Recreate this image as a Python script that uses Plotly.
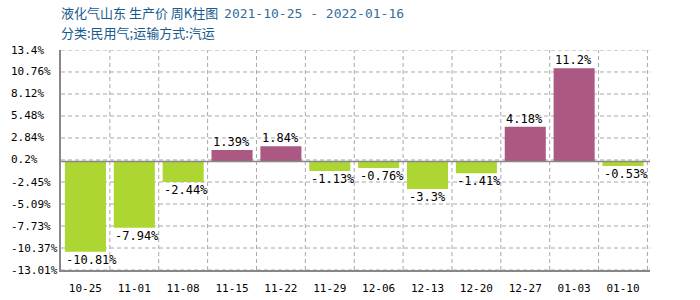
import plotly.graph_objects as go

categories = ["10-25", "11-01", "11-08", "11-15", "11-22", "11-29",
              "12-06", "12-13", "12-20", "12-27", "01-03", "01-10"]
values = [-10.81, -7.94, -2.44, 1.39, 1.84, -1.13,
          -0.76, -3.3, -1.41, 4.18, 11.2, -0.53]
y_ticks = [13.4, 10.76, 8.12, 5.48, 2.84, 0.2, -2.45, -5.09, -7.73, -10.37, -13.01]

title_main = "液化气山东 生产价 周K柱图"
title_dates = "2021-10-25 - 2022-01-16"
subtitle = "分类:民用气;运输方式:汽运"

UP = "#AB5882"
DOWN = "#ADD633"
GRID = "#A8A8A8"
MONO = "DejaVu Sans Mono"
CJK = "Noto Sans CJK SC"

colors = [UP if v >= 0 else DOWN for v in values]

fig = go.Figure()
fig.add_trace(go.Bar(
    x=categories, y=values, marker=dict(color=colors, line=dict(width=0)),
    hoverinfo="skip",
))

annotations = []
for c, v in zip(categories, values):
    annotations.append(dict(
        x=c, y=v, xref="x", yref="y", text=f"{v:g}%", showarrow=False,
        xanchor="left", yanchor="bottom" if v >= 0 else "top",
        xshift=-21, yshift=-1 if v >= 0 else 1,
        font=dict(family=MONO, size=12, color="#000000"),
    ))
for t in y_ticks:
    annotations.append(dict(
        x=0, y=t, xref="paper", yref="y", text=f"{t:g}%", showarrow=False,
        xanchor="left", yanchor="middle", xshift=-52,
        font=dict(family=MONO, size=11, color="#000000"),
    ))
annotations.append(dict(
    x=0, y=1, xref="paper", yref="paper", xanchor="left", yanchor="bottom",
    yshift=26, xshift=-2, showarrow=False,
    text=f"<span style='font-family:{CJK}'>{title_main}</span>  "
         f"<span style='font-family:{MONO};color:#336E9C'>{title_dates}</span>",
    font=dict(family=CJK, size=13, color="#175B8E"),
))
annotations.append(dict(
    x=0, y=1, xref="paper", yref="paper", xanchor="left", yanchor="bottom",
    yshift=6, xshift=-2, showarrow=False, text=subtitle,
    font=dict(family=CJK, size=13, color="#175B8E"),
))

shapes = []
# vertical dashed grid at slot boundaries
for i in range(1, len(categories) + 1):
    shapes.append(dict(type="line", xref="x", yref="paper", x0=i - 0.5, x1=i - 0.5,
                       y0=0, y1=1, line=dict(color=GRID, width=1, dash="4px,3px"),
                       layer="between"))
# horizontal dashed grid at ticks
for t in y_ticks:
    shapes.append(dict(type="line", xref="paper", yref="y", x0=0, x1=1, y0=t, y1=t,
                       line=dict(color=GRID, width=1, dash="4px,3px"), layer="between"))
shapes.append(dict(type="line", xref="paper", yref="y", x0=0, x1=1, y0=0, y1=0,
                   line=dict(color="#888888", width=1.5), layer="above"))

fig.update_layout(
    width=700, height=300,
    margin=dict(l=61, r=50, t=50, b=30),
    plot_bgcolor="white", paper_bgcolor="white",
    showlegend=False, bargap=0.16,
    annotations=annotations, shapes=shapes,
    font=dict(family=MONO, size=11, color="#000000"),
)
fig.update_xaxes(
    type="category", showgrid=False, ticks="", tickfont=dict(family=MONO, size=11),
    showline=True, linecolor="#888888", linewidth=2, mirror=False,
    zeroline=False, ticklabelstandoff=7, automargin=False,
)
fig.update_yaxes(
    range=[y_ticks[-1], y_ticks[0]], tickvals=y_ticks, showticklabels=False,
    showgrid=False, automargin=False,
    showline=True, linecolor="#888888", linewidth=2, zeroline=False, ticks="",
)
fig.write_html("out.html")
